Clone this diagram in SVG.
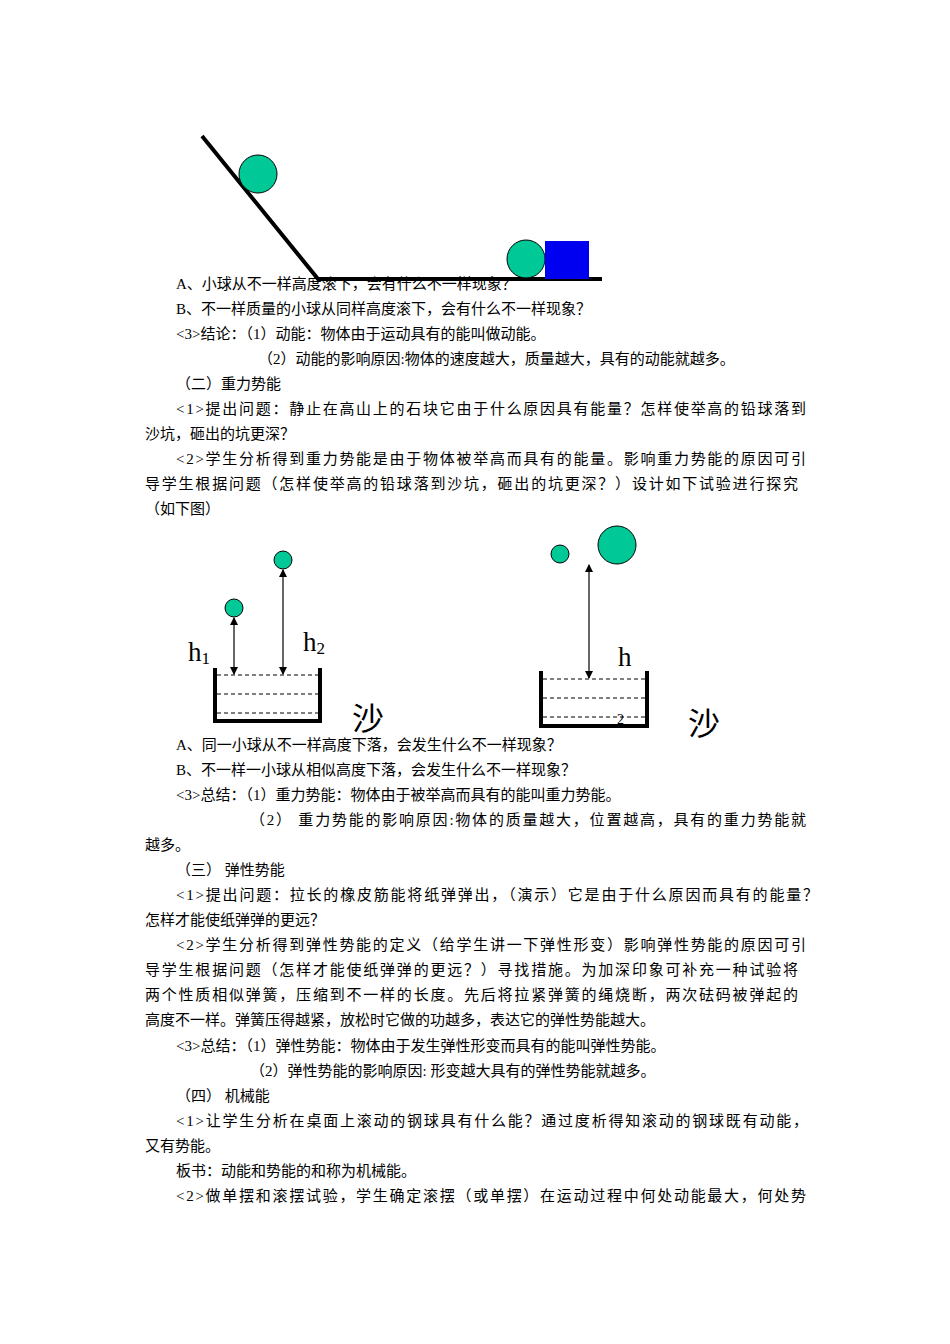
<svg xmlns="http://www.w3.org/2000/svg" width="950" height="1344" viewBox="0 0 950 1344">
<style>
text{font-family:"Liberation Serif","Noto Sans CJK SC",serif;font-size:15px;fill:#000}
.ball{fill:#00c896;stroke:#000;stroke-width:1}
.dash{stroke:#000;stroke-width:1;stroke-dasharray:4 3}
.thick{stroke:#000;stroke-width:4;fill:none}
.arr{stroke:#000;stroke-width:1.2;marker-start:url(#a);marker-end:url(#a)}
text.big{font-size:27px}
text.sand{font-size:32px}
tspan.sub{font-size:17px}
text.small{font-size:14px}
</style>
<defs><marker id="a" markerWidth="8" markerHeight="8" refX="7" refY="4" orient="auto-start-reverse" markerUnits="userSpaceOnUse"><path d="M0,0 L8,4 L0,8 Z" fill="#000"/></marker></defs>
<rect width="950" height="1344" fill="#fff"/>
<g id="ramp">
<polyline class="thick" points="202,136 318,279 602,279"/>
<circle class="ball" cx="258" cy="174" r="19"/>
<circle class="ball" cx="526" cy="259" r="19"/>
<rect x="545" y="241" width="44" height="38" fill="#0000f0"/>
</g>
<g id="fig2">
<polyline class="thick" points="215,668 215,721 320,721 320,668"/>
<line class="dash" x1="217" y1="675" x2="318" y2="675"/>
<line class="dash" x1="217" y1="694" x2="318" y2="694"/>
<line class="dash" x1="217" y1="713" x2="318" y2="713"/>
<circle class="ball" cx="234" cy="608" r="9"/>
<circle class="ball" cx="283" cy="560" r="9"/>
<line class="arr" x1="234" y1="618" x2="234" y2="674"/>
<line class="arr" x1="283" y1="570" x2="283" y2="674"/>
<text class="big" x="188" y="661">h<tspan class="sub" dy="3">1</tspan></text>
<text class="big" x="303" y="651">h<tspan class="sub" dy="3">2</tspan></text>
<text class="sand" x="352" y="730">沙</text>
<polyline class="thick" points="541,671 541,726 647,726 647,671"/>
<line class="dash" x1="543" y1="679" x2="645" y2="679"/>
<line class="dash" x1="543" y1="698" x2="645" y2="698"/>
<line class="dash" x1="543" y1="717" x2="645" y2="717"/>
<text class="small" x="617" y="724">2</text>
<circle class="ball" cx="560" cy="554" r="9"/>
<circle class="ball" cx="617" cy="545" r="19"/>
<line class="arr" x1="589" y1="565" x2="589" y2="678"/>
<text class="big" x="618" y="666">h</text>
<text class="sand" x="688" y="735">沙</text>
</g>
<g id="text">
<text x="176" y="289">A、小球从不一样高度滚下，会有什么不一样现象？</text>
<text x="176" y="314">B、不一样质量的小球从同样高度滚下，会有什么不一样现象？</text>
<text x="176" y="339">&lt;3&gt;结论：（1）动能：物体由于运动具有的能叫做动能。</text>
<text x="258" y="364">（2）动能的影响原因:物体的速度越大，质量越大，具有的动能就越多。</text>
<text x="176" y="389">（二）重力势能</text>
<text x="176" y="414" textLength="630">&lt;1&gt;提出问题：静止在高山上的石块它由于什么原因具有能量？怎样使举高的铅球落到</text>
<text x="145" y="439">沙坑，砸出的坑更深？</text>
<text x="176" y="464" textLength="630">&lt;2&gt;学生分析得到重力势能是由于物体被举高而具有的能量。影响重力势能的原因可引</text>
<text x="145" y="489" textLength="653">导学生根据问题（怎样使举高的铅球落到沙坑，砸出的坑更深？）设计如下试验进行探究</text>
<text x="145" y="514">（如下图）</text>
<text x="176" y="750">A、同一小球从不一样高度下落，会发生什么不一样现象？</text>
<text x="176" y="775">B、不一样一小球从相似高度下落，会发生什么不一样现象？</text>
<text x="176" y="800">&lt;3&gt;总结：（1）重力势能：物体由于被举高而具有的能叫重力势能。</text>
<text x="250" y="825" textLength="556">（2）  重力势能的影响原因:物体的质量越大，位置越高，具有的重力势能就</text>
<text x="145" y="850">越多。</text>
<text x="176" y="875">（三）  弹性势能</text>
<text x="176" y="900" textLength="642">&lt;1&gt;提出问题：拉长的橡皮筋能将纸弹弹出，（演示）它是由于什么原因而具有的能量？</text>
<text x="145" y="925">怎样才能使纸弹弹的更远？</text>
<text x="176" y="950" textLength="630">&lt;2&gt;学生分析得到弹性势能的定义（给学生讲一下弹性形变）影响弹性势能的原因可引</text>
<text x="145" y="975" textLength="653">导学生根据问题（怎样才能使纸弹弹的更远？）寻找措施。为加深印象可补充一种试验将</text>
<text x="145" y="1000" textLength="653">两个性质相似弹簧，压缩到不一样的长度。先后将拉紧弹簧的绳烧断，两次砝码被弹起的</text>
<text x="145" y="1025">高度不一样。弹簧压得越紧，放松时它做的功越多，表达它的弹性势能越大。</text>
<text x="176" y="1051">&lt;3&gt;总结：（1）弹性势能：物体由于发生弹性形变而具有的能叫弹性势能。</text>
<text x="250" y="1076">（2）弹性势能的影响原因: 形变越大具有的弹性势能就越多。</text>
<text x="176" y="1101">（四）  机械能</text>
<text x="176" y="1126" textLength="632">&lt;1&gt;让学生分析在桌面上滚动的钢球具有什么能？通过度析得知滚动的钢球既有动能，</text>
<text x="145" y="1151">又有势能。</text>
<text x="176" y="1176">板书：动能和势能的和称为机械能。</text>
<text x="176" y="1201" textLength="630">&lt;2&gt;做单摆和滚摆试验，学生确定滚摆（或单摆）在运动过程中何处动能最大，何处势</text>
</g>
</svg>
